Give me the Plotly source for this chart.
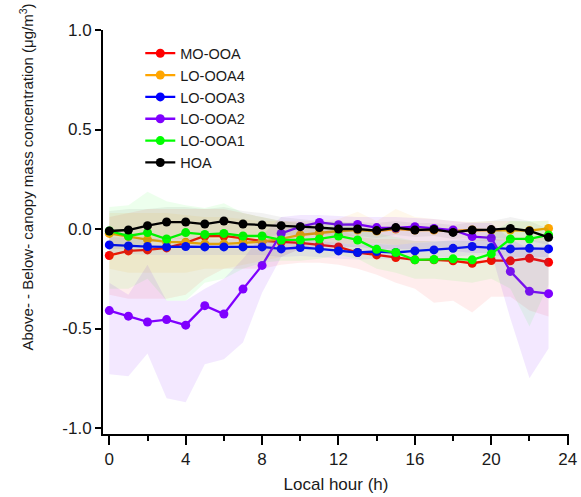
import plotly.graph_objects as go

hours = list(range(24))

mo_ooa = [-0.133, -0.11, -0.105, -0.095, -0.07, -0.035, -0.035, -0.048, -0.06, -0.065, -0.07, -0.08,
          -0.09, -0.118, -0.13, -0.143, -0.155, -0.155, -0.16, -0.172, -0.158, -0.16, -0.147, -0.167]
mo_ooa_lo = [-0.33, -0.35, -0.35, -0.35, -0.33, -0.25, -0.2, -0.2, -0.2, -0.18, -0.17, -0.17,
             -0.18, -0.2, -0.23, -0.27, -0.3, -0.37, -0.36, -0.42, -0.34, -0.34, -0.41, -0.44]
mo_ooa_hi = [0.06, 0.08, 0.1, 0.1, 0.1, 0.1, 0.1, 0.08, 0.06, 0.04, 0.03, 0.02,
             0.0, -0.04, -0.05, -0.05, -0.06, -0.06, -0.06, -0.06, -0.05, -0.05, -0.04, -0.04]

lo_ooa4 = [-0.022, -0.038, -0.053, -0.065, -0.067, -0.075, -0.075, -0.07, -0.063, -0.05, -0.03, -0.02,
           -0.01, -0.005, -0.01, 0.0, -0.005, -0.005, -0.01, -0.005, -0.005, -0.005, -0.008, 0.003]
lo_ooa4_lo = [-0.2, -0.22, -0.22, -0.22, -0.22, -0.2, -0.2, -0.18, -0.16, -0.14, -0.1, -0.08,
              -0.07, -0.08, -0.07, -0.08, -0.07, -0.06, -0.06, -0.06, -0.06, -0.06, -0.06, -0.05]
lo_ooa4_hi = [0.08, 0.08, 0.08, 0.08, 0.07, 0.06, 0.06, 0.05, 0.04, 0.04, 0.04, 0.04,
              0.05, 0.087, 0.04, 0.1, 0.06, 0.05, 0.04, 0.035, 0.04, 0.04, 0.035, 0.045]

lo_ooa3 = [-0.08, -0.085, -0.088, -0.09, -0.088, -0.09, -0.09, -0.09, -0.09, -0.10, -0.093, -0.10,
           -0.11, -0.118, -0.113, -0.118, -0.11, -0.105, -0.097, -0.088, -0.093, -0.10, -0.097, -0.10]
lo_ooa3_lo = [-0.12, -0.125, -0.13, -0.13, -0.13, -0.13, -0.13, -0.13, -0.13, -0.14, -0.135, -0.14,
              -0.15, -0.155, -0.15, -0.155, -0.15, -0.145, -0.14, -0.13, -0.135, -0.14, -0.14, -0.14]
lo_ooa3_hi = [-0.04, -0.045, -0.045, -0.05, -0.045, -0.05, -0.05, -0.05, -0.05, -0.06, -0.05, -0.06,
              -0.07, -0.08, -0.075, -0.08, -0.07, -0.065, -0.055, -0.045, -0.05, -0.06, -0.055, -0.06]

lo_ooa2 = [-0.41, -0.438, -0.467, -0.455, -0.483, -0.385, -0.427, -0.302, -0.183, -0.022, 0.012, 0.033,
           0.022, 0.023, 0.007, 0.005, 0.012, 0.003, -0.005, -0.038, -0.045, -0.213, -0.313, -0.325]
lo_ooa2_lo = [-0.73, -0.74, -0.625, -0.85, -0.87, -0.68, -0.655, -0.57, -0.32, -0.14, -0.1, -0.09,
              -0.09, -0.09, -0.1, -0.1, -0.1, -0.1, -0.11, -0.12, -0.12, -0.45, -0.75, -0.6]
lo_ooa2_hi = [-0.27, -0.33, -0.18, -0.36, -0.36, -0.3, -0.25, -0.15, -0.03, 0.06, 0.07, 0.07,
              0.065, 0.06, 0.06, 0.06, 0.055, 0.05, 0.04, 0.03, 0.03, -0.05, -0.1, -0.08]

lo_ooa1 = [-0.01, -0.035, -0.018, -0.05, -0.018, -0.027, -0.022, -0.035, -0.035, -0.055, -0.055, -0.05,
           -0.035, -0.055, -0.102, -0.118, -0.155, -0.153, -0.15, -0.155, -0.125, -0.05, -0.05, -0.03]
lo_ooa1_lo = [-0.3, -0.3, -0.25, -0.36, -0.36, -0.27, -0.25, -0.2, -0.17, -0.16, -0.16, -0.15,
              -0.13, -0.15, -0.2, -0.22, -0.25, -0.25, -0.26, -0.27, -0.25, -0.3, -0.49, -0.28]
lo_ooa1_hi = [0.11, 0.12, 0.187, 0.14, 0.12, 0.105, 0.13, 0.08, 0.06, 0.04, 0.03, 0.03,
              0.04, 0.02, -0.02, -0.04, -0.06, -0.06, -0.06, -0.06, -0.02, 0.04, 0.04, 0.04]

hoa = [-0.01, -0.005, 0.017, 0.035, 0.035, 0.025, 0.04, 0.025, 0.02, 0.017, 0.012, 0.007,
       0.0, 0.0, -0.008, 0.007, -0.005, -0.002, -0.017, -0.005, -0.003, 0.003, -0.01, -0.042]
hoa_lo = [-0.1, -0.1, -0.07, -0.05, -0.05, -0.05, -0.04, -0.04, -0.04, -0.03, -0.03, -0.03,
          -0.035, -0.035, -0.045, -0.03, -0.04, -0.035, -0.05, -0.045, -0.045, -0.05, -0.06, -0.08]
hoa_hi = [0.09, 0.1, 0.1, 0.11, 0.11, 0.1, 0.11, 0.09, 0.08, 0.06, 0.05, 0.04,
          0.035, 0.035, 0.03, 0.04, 0.03, 0.03, 0.02, 0.035, 0.04, 0.06, 0.04, 0.0]

names = ["MO-OOA", "LO-OOA4", "LO-OOA3", "LO-OOA2", "LO-OOA1", "HOA"]
means = [mo_ooa, lo_ooa4, lo_ooa3, lo_ooa2, lo_ooa1, hoa]
lows = [mo_ooa_lo, lo_ooa4_lo, lo_ooa3_lo, lo_ooa2_lo, lo_ooa1_lo, hoa_lo]
highs = [mo_ooa_hi, lo_ooa4_hi, lo_ooa3_hi, lo_ooa2_hi, lo_ooa1_hi, hoa_hi]
colors = ["#FF0000", "#FFA500", "#0000FF", "#7F00FF", "#00FF00", "#000000"]
fills = ["rgba(255,0,0,0.07)", "rgba(255,170,0,0.08)", "rgba(0,0,255,0.06)",
         "rgba(127,0,255,0.09)", "rgba(0,255,0,0.07)", "rgba(0,0,0,0.05)"]

x_ticks = [0, 4, 8, 12, 16, 20, 24]
y_ticks = [-1.0, -0.5, 0.0, 0.5, 1.0]
y_ticktext = ["-1.0", "-0.5", "0.0", "0.5", "1.0"]

FONT = "Arial, Liberation Sans, sans-serif"

fig = go.Figure()
for name, m, lo, hi, c, f in zip(names, means, lows, highs, colors, fills):
    fig.add_trace(go.Scatter(
        x=hours + hours[::-1], y=hi + lo[::-1], fill="toself", fillcolor=f,
        line=dict(width=0), mode="lines", showlegend=False, hoverinfo="skip"))
    fig.add_trace(go.Scatter(
        x=hours, y=m, name=name, mode="lines+markers",
        line=dict(color=c, width=2.3), marker=dict(color=c, size=9)))

fig.update_layout(
    width=581, height=497,
    margin=dict(l=103, r=12, t=30, b=63),
    paper_bgcolor="white", plot_bgcolor="white",
    font=dict(family=FONT, color="#1a1a1a"),
    showlegend=True,
    legend=dict(x=0.08, y=0.982, xanchor="left", yanchor="top",
                bgcolor="rgba(0,0,0,0)", font=dict(size=14.5, family=FONT, color="#1a1a1a"),
                itemwidth=30),
    xaxis=dict(range=[-0.33, 24.07], tickvals=x_ticks, showgrid=False, zeroline=False,
               automargin=False,
               showline=True, linecolor="black", linewidth=2,
               ticks="outside", ticklen=9, tickwidth=2, tickcolor="black",
               tickfont=dict(size=17, family=FONT, color="#1a1a1a"),
               minor=dict(dtick=2, tick0=0, ticks="outside", ticklen=5, tickwidth=2, tickcolor="black"),
               title=dict(text="Local hour (h)", font=dict(size=17, family=FONT, color="#1a1a1a"), standoff=10)),
    yaxis=dict(range=[-1.03, 1.0], tickvals=y_ticks, ticktext=y_ticktext, showgrid=False, zeroline=False,
               automargin=False,
               showline=True, linecolor="black", linewidth=2,
               ticks="outside", ticklen=6, tickwidth=2, tickcolor="black",
               tickfont=dict(size=17, family=FONT, color="#1a1a1a")),
    annotations=[dict(
        text="Above- - Below- canopy mass concentration (μg/m<sup>3</sup>)",
        textangle=-90, xref="paper", yref="paper", x=-0.165, y=0.635,
        xanchor="center", yanchor="middle", showarrow=False,
        font=dict(size=15, family=FONT, color="#1a1a1a"))],
)

fig.write_html("out.html")
